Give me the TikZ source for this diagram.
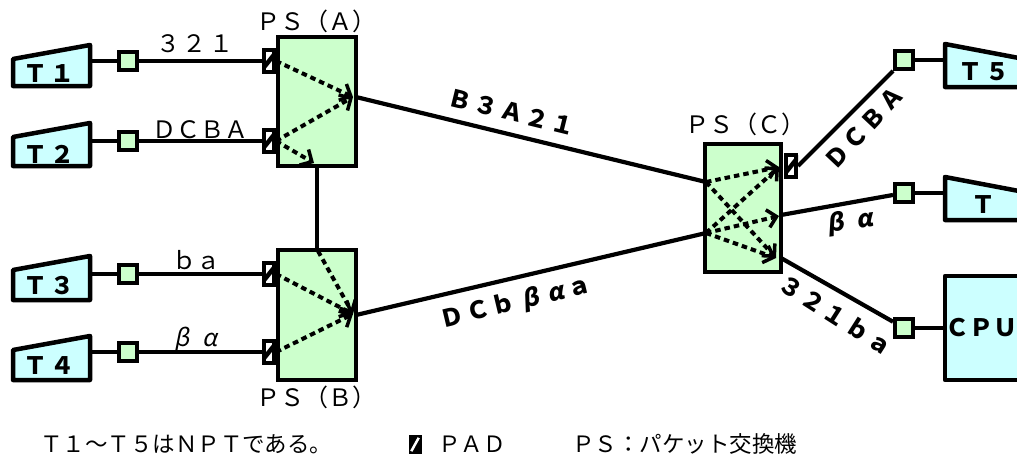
\documentclass[tikz,border=0pt]{standalone}
\usepackage{fontspec}
\setmainfont{Noto Sans CJK JP}
\newfontfamily\slfont[FakeSlant=0.2]{Noto Sans CJK JP}
\usetikzlibrary{arrows.meta}
\definecolor{termfill}{HTML}{CCFFFF}
\definecolor{psfill}{HTML}{CCFFCC}

\tikzset{
  wire/.style={line width=4.2pt},
  term/.style={draw, line width=4.5pt, fill=termfill, line join=round},
  jack/.style={draw, line width=4pt, fill=psfill, minimum size=18pt, inner sep=0pt},
  switch/.style={draw, line width=4.5pt, fill=psfill, inner sep=0pt},
  padbox/.style={draw, line width=4pt, fill=white, minimum width=10pt, minimum height=22pt, inner sep=0pt},
  flow/.style={line width=4pt, dash pattern=on 5.5pt off 4pt,
    -{Straight Barb[length=9pt,width=18pt,line width=3.5pt]}},
  lbl/.style={inner sep=0pt, font=\fontsize{24}{24}\selectfont},
  blbl/.style={inner sep=0pt, font=\fontsize{24}{24}\selectfont\bfseries},
  foot/.style={inner sep=0pt, font=\fontsize{22.5}{22.5}\selectfont},
}

% diagonal hatch inside a PAD box
\newcommand\hatchpad[1]{%
  \begin{scope}
    \clip (#1.south west) rectangle (#1.north east);
    \draw[line width=4.5pt] ([xshift=-1pt,yshift=3pt]#1.south west) -- ([xshift=1pt,yshift=-3pt]#1.north east);
  \end{scope}}

% slanted greek letters
\newcommand\gk[1]{{\slfont #1}}
% small gap between glyphs of a packet string
\newcommand\gp{\hspace{2.5pt}}

\begin{document}
\begin{tikzpicture}[x=1pt,y=-1pt]
\useasboundingbox (0,0) rectangle (1017,459);
\clip (0,0) rectangle (1017,459);

% ---------- terminals on the left ----------
\draw[term] (13,59) -- (90,45) -- (90,86) -- (13,86) -- cycle;
\draw[term] (13,137) -- (90,123) -- (90,166) -- (13,166) -- cycle;
\draw[term] (13,270) -- (90,256) -- (90,300) -- (13,300) -- cycle;
\draw[term] (13,350) -- (90,336) -- (90,380) -- (13,380) -- cycle;
\node[blbl] (t1) at (49,74) {Ｔ\gp１};
\node[blbl] (t2) at (49,154) {Ｔ\gp２};
\node[blbl] (t3) at (49,286) {Ｔ\gp３};
\node[blbl] (t4) at (49,366) {Ｔ\gp４};
\coordinate (t1e) at (90,61);
\coordinate (t2e) at (90,141);
\coordinate (t3e) at (90,274);
\coordinate (t4e) at (90,352);

% ---------- terminals on the right ----------
\draw[term] (945,44) -- (1040,62) -- (1040,87) -- (945,87) -- cycle;
\draw[term] (945,177) -- (1040,195) -- (1040,220) -- (945,220) -- cycle;
\draw[term] (945,276) rectangle (1040,380);
\node[blbl] (t5) at (984,72) {Ｔ\gp５};
\node[blbl] (t6) at (983,205) {Ｔ};
\node[blbl] (cpu) at (981,328) {ＣＰＵ};
\coordinate (t5w) at (945,60);
\coordinate (t6w) at (945,193);
\coordinate (cpuw) at (945,328);

% ---------- packet switches ----------
\node[switch, minimum width=78pt, minimum height=129pt] (psA) at (317,101.5) {};
\node[switch, minimum width=78pt, minimum height=130pt] (psB) at (317,315) {};
\node[switch, minimum width=76pt, minimum height=128pt] (psC) at (743,208) {};
\node[lbl] (psAl) at (316,21) {ＰＳ（Ａ）};
\node[lbl] (psBl) at (316,397) {ＰＳ（Ｂ）};
\node[lbl] (psCl) at (745,124) {ＰＳ（Ｃ）};

% ---------- line jacks ----------
\node[jack] (s1) at (128,61) {};
\node[jack] (s2) at (128,141) {};
\node[jack] (s3) at (128,274) {};
\node[jack] (s4) at (128,352) {};
\node[jack] (s5) at (904,60) {};
\node[jack] (s6) at (904,193) {};
\node[jack] (s7) at (904,328) {};

% ---------- PADs ----------
\node[padbox] (p1) at (269,61) {};
\node[padbox] (p2) at (269,141) {};
\node[padbox] (p3) at (269,274) {};
\node[padbox] (p4) at (269,352) {};
\node[padbox] (pC) at (791,166) {};
\hatchpad{p1}\hatchpad{p2}\hatchpad{p3}\hatchpad{p4}\hatchpad{pC}

% ---------- ports on the switches ----------
\coordinate (aOut) at (356,97);
\coordinate (bOut) at (356,315);
\coordinate (cIn1) at (706,182);
\coordinate (cIn2) at (706,233);
\coordinate (cOut2) at (781,215);
\coordinate (cOut3) at (781,258);

% ---------- lines ----------
\draw[wire] (t1e) -- (s1); \draw[wire] (s1) -- (p1);
\draw[wire] (t2e) -- (s2); \draw[wire] (s2) -- (p2);
\draw[wire] (t3e) -- (s3); \draw[wire] (s3) -- (p3);
\draw[wire] (t4e) -- (s4); \draw[wire] (s4) -- (p4);
\draw[wire] (psA.south) -- (psB.north);
\draw[wire] (aOut) -- (cIn1);
\draw[wire] (bOut) -- (cIn2);
\draw[wire] (pC.east) -- (s5); \draw[wire] (s5) -- (t5w);
\draw[wire] (cOut2) -- (s6); \draw[wire] (s6) -- (t6w);
\draw[wire] (cOut3) -- (s7); \draw[wire] (s7) -- (cpuw);

% ---------- routes through the switches ----------
\coordinate (aTip) at (353,97);
\coordinate (aDown) at (314,163);
\draw[flow] (p1.east) -- (aTip);
\draw[flow] (p2.east) -- (aTip);
\draw[flow] (p2.east) -- (aDown);

\coordinate (bTop) at (318,251);
\coordinate (bTip) at (353,314);
\draw[flow] (bTop) -- (bTip);
\draw[flow] (p3.east) -- (bTip);
\draw[flow] (p4.east) -- (bTip);

\coordinate (cT1) at (779,167);
\coordinate (cT2) at (779,216);
\coordinate (cT3) at (776,258);
\draw[flow] (cIn1) -- (cT1);
\draw[flow] (cIn1) -- (cT3);
\draw[flow] (cIn2) -- (cT1);
\draw[flow] (cIn2) -- (cT2);
\draw[flow] (cIn2) -- (cT3);

% ---------- packet labels ----------
\node[lbl] (m1) at (195,44) {３\gp２\gp１};
\node[lbl] (m2) at (200,130) {ＤＣＢＡ};
\node[lbl] (m3) at (196,260) {ｂａ};
\node[lbl] (m4) at (196,339) {\gk{β}\hspace{12pt}\gk{α}};
\node[blbl, rotate=-13.8] (m5) at (512,112) {Ｂ\gp３\gp Ａ\gp２\gp１};
\node[blbl, rotate=13.4] (m6) at (516,303) {Ｄ\gp Ｃ\gp ｂ\hspace{7pt}\gk{β}\hspace{10pt}\gk{α}\hspace{4pt}ａ};
\node[blbl, rotate=46.7] (m7) at (864,128) {Ｄ\gp Ｃ\gp Ｂ\gp Ａ};
\node[blbl, rotate=8] (m8) at (850,222) {\gk{β}\hspace{12pt}\gk{α}};
\node[blbl, rotate=-32.5] (m9) at (836,315) {３\gp２\gp１\gp ｂ\gp ａ};

% ---------- legend ----------
\node[foot, anchor=west] (note1) at (40,444) {Ｔ１～Ｔ５はＮＰＴである。};
\node[fill=black, minimum width=13pt, minimum height=19pt, inner sep=0pt] (padkey) at (415,444.5) {};
\draw[white, line width=2.5pt] ([shift={(3pt,3pt)}]padkey.south west) -- ([shift={(-3pt,-3pt)}]padkey.north east);
\node[foot, anchor=west] (note2) at (438,444) {ＰＡＤ};
\node[foot, anchor=west] (note3) at (572,444) {ＰＳ：パケット交換機};
\end{tikzpicture}
\end{document}
